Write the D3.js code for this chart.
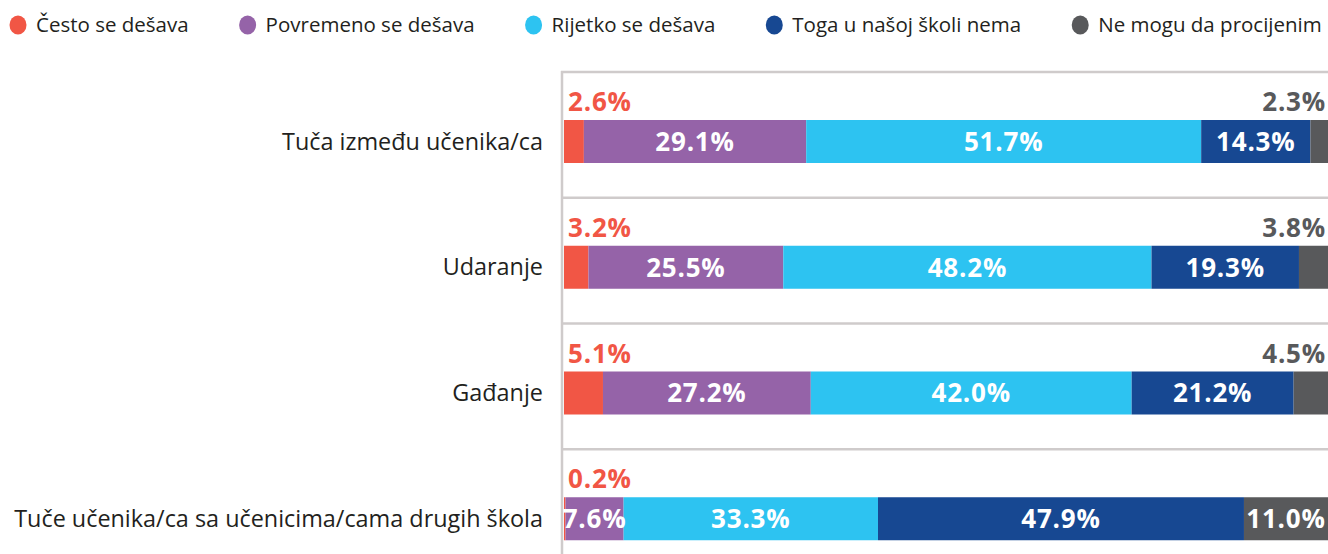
<!DOCTYPE html>
<html>
<head>
    <meta charset="utf-8">
    <title>Nasilje</title>
    <style>
        body { margin: 0; background: #fff; }
        svg { display: block; font-family: "Open Sans", sans-serif; }
    </style>
</head>
<body>
<div id="chart"></div>
<script src="https://d3js.org/d3.v7.min.js"></script>
<script>

    let categories = ['Tuča između učenika/ca', 'Udaranje', 'Gađanje',
        'Tuče učenika/ca sa učenicima/cama drugih škola'];
    let series = ['Često se dešava', 'Povremeno se dešava', 'Rijetko se dešava',
        'Toga u našoj školi nema', 'Ne mogu da procijenim'];
    let cesto     = [2.6, 3.2, 5.1, 0.2];
    let povremeno = [29.1, 25.5, 27.2, 7.6];
    let rijetko   = [51.7, 48.2, 42.0, 33.3];
    let nema      = [14.3, 19.3, 21.2, 47.9];
    let neMogu    = [2.3, 3.8, 4.5, 11.0];
    let colors = ['#f15645', '#9563a8', '#2dc3f1', '#174892', '#58595b'];

    let values = [cesto, povremeno, rijetko, nema, neMogu];

    let svgWidth = 1328;
    let svgHeight = 554;
    let barOffset = 48;
    let barHeight = 43;

    let svg = d3.select('#chart')
        .append('svg')
        .attr('width', svgWidth)
        .attr('height', svgHeight);

    let x = d3.scaleLinear().domain([0, 100]).range([564, 1328]);
    let y = d3.scaleBand().domain(categories).range([72, 575]);
    let color = d3.scaleOrdinal().domain(series).range(colors);

    // stacked rows
    let rows = categories.map((c, i) => {
        let obj = {cat: c};
        series.forEach((s, j) => obj[s] = values[j][i]);
        return obj;
    });
    let stacked = d3.stack().keys(series)(rows);

    // grid lines + axis
    svg.selectAll('.grid')
        .data(categories)
        .enter()
        .append('line')
        .attr('x1', 561)
        .attr('x2', svgWidth)
        .attr('y1', d => y(d))
        .attr('y2', d => y(d))
        .style('stroke', '#cfcbcb')
        .style('stroke-width', 2.5);

    svg.append('line')
        .attr('x1', 562).attr('x2', 562)
        .attr('y1', y(categories[0]) - 1)
        .attr('y2', svgHeight)
        .style('stroke', '#cfcbcb')
        .style('stroke-width', 2.5);

    // category labels
    svg.selectAll('.cat')
        .data(categories)
        .enter()
        .append('text')
        .attr('x', 543)
        .attr('y', d => y(d) + barOffset + barHeight / 2)
        .attr('dy', '0.35em')
        .style('text-anchor', 'end')
        .style('font-size', '23.4px')
        .style('fill', '#231f20')
        .text(d => d);

    // bars
    let layer = svg.selectAll('.layer')
        .data(stacked)
        .enter()
        .append('g')
        .style('fill', d => color(d.key));

    layer.selectAll('rect')
        .data(d => d)
        .enter()
        .append('rect')
        .attr('x', d => x(d[0]))
        .attr('width', d => x(d[1]) - x(d[0]))
        .attr('y', d => y(d.data.cat) + barOffset)
        .attr('height', barHeight);

    // value labels
    stacked.forEach((s, j) => {
        s.forEach(d => {
            let v = d[1] - d[0];
            let top = y(d.data.cat) + barOffset;
            let t = svg.append('text')
                .style('font-size', '26px')
                .style('font-weight', 'bold')
                .style('letter-spacing', '0.8px')
                .text(v.toFixed(1) + '%');
            if (v < 6 && (j === 0 || j === series.length - 1)) {
                t.style('fill', color(s.key))
                    .attr('y', top - 9)
                    .attr('x', j === 0 ? x(0) + 4 : x(100) - 2)
                    .style('text-anchor', j === 0 ? 'start' : 'end');
            } else {
                t.style('fill', '#fff')
                    .attr('y', top + barHeight / 2)
                    .attr('dy', '0.36em')
                    .attr('x', (x(d[0]) + x(d[1])) / 2)
                    .style('text-anchor', 'middle');
            }
        });
    });

    // legend
    let lx = 18;
    series.forEach(s => {
        svg.append('ellipse')
            .attr('cx', lx)
            .attr('cy', 25)
            .attr('rx', 8.5)
            .attr('ry', 9.5)
            .style('fill', color(s));
        let t = svg.append('text')
            .attr('x', lx + 18)
            .attr('y', 25)
            .attr('dy', '0.35em')
            .style('font-size', '20.5px')
            .style('fill', '#231f20')
            .text(s);
        lx = lx + 18 + t.node().getComputedTextLength() + 59;
    });

</script>
</body>
</html>
